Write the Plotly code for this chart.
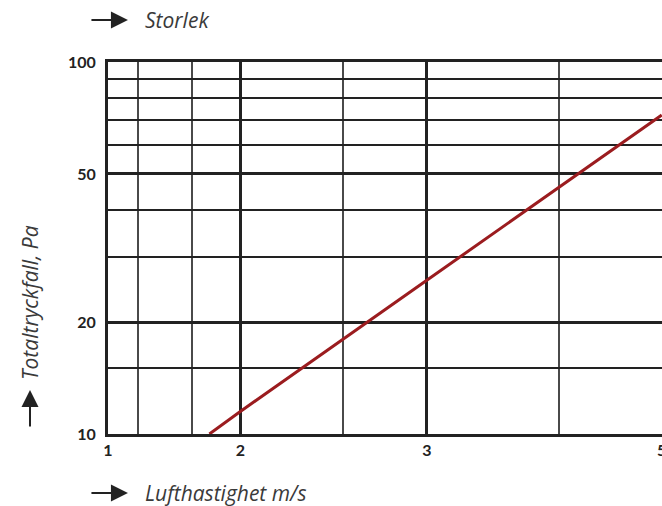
import plotly.graph_objects as go

# (log-log chart)
velocity = [1.87, 2.0, 3.0, 4.0, 5.0]
pressure = [10.0, 11.5, 25.9, 46.0, 72.0]

x_major = [1.5, 2, 3, 5]
x_major_text = ["1", "2", "3", "5"]
x_minor = [1.6, 1.8, 2.5, 4]
y_major = [10, 20, 50, 100]
y_major_text = ["10", "20", "50", "100"]
y_minor = [15, 30, 40, 60, 70, 80, 90]

ink = "#222222"
title_font = dict(family="Open Sans", size=21, color="#3a3a3a")
tick_font = dict(family="Lato", size=16, color=ink, weight="bold")

fig = go.Figure()
fig.add_trace(go.Scatter(x=velocity, y=pressure, mode="lines",
                         line=dict(color="#9b1c1f", width=3), showlegend=False,
                         hoverinfo="skip"))

fig.update_xaxes(type="log", range=[0.17609, 0.6992], tickmode="array",
                 tickvals=x_major, ticktext=x_major_text, showgrid=True,
                 gridcolor=ink, gridwidth=3, showline=True, linecolor=ink,
                 linewidth=3, mirror=True, ticks="", automargin=False,
                 ticklabeloverflow="allow", tickfont=tick_font,
                 minor=dict(tickmode="array", tickvals=x_minor, showgrid=True,
                            gridcolor="#4a4a4a", gridwidth=2, ticks=""))
fig.update_yaxes(type="log", range=[1, 2], tickmode="array",
                 tickvals=y_major, ticktext=y_major_text, showgrid=True,
                 gridcolor=ink, gridwidth=3, showline=True, linecolor=ink,
                 linewidth=3, mirror=False, ticks="", automargin=False,
                 ticklabelstandoff=6, tickfont=tick_font,
                 minor=dict(tickmode="array", tickvals=y_minor, showgrid=True,
                            gridcolor=ink, gridwidth=1.5, ticks=""))

# arrows and axis titles
arrow = dict(showarrow=True, arrowhead=2, arrowsize=1.7, arrowwidth=2,
             arrowcolor=ink, text="", xref="paper", yref="paper")
fig.add_annotation(x=0.036, y=1.113, ax=-38, ay=0, **arrow)
fig.add_annotation(x=0.036, y=-0.1586, ax=-38, ay=0, **arrow)
fig.add_annotation(x=-0.1408, y=0.118, ax=0, ay=38, **arrow)

fig.add_annotation(x=0.0632, y=1.113, xref="paper", yref="paper", showarrow=False,
                   text="<i>Storlek</i>", xanchor="left", yanchor="middle",
                   font=title_font)
fig.add_annotation(x=0.0632, y=-0.1586, xref="paper", yref="paper", showarrow=False,
                   text="<i>Lufthastighet m/s</i>", xanchor="left",
                   yanchor="middle", font=title_font)
fig.add_annotation(x=-0.1408, y=0.355, xref="paper", yref="paper", showarrow=False,
                   text="<i>Totaltryckfall, Pa</i>", textangle=-90,
                   xanchor="center", yanchor="middle", font=title_font)

fig.update_layout(width=662, height=506, plot_bgcolor="white",
                  paper_bgcolor="white",
                  margin=dict(l=108, r=0, t=62, b=72))

# drop the default 8px page margin so the figure sits at the window corner
fig.write_html("out.html", config={"displayModeBar": False},
               post_script="document.body.style.margin='0';")
